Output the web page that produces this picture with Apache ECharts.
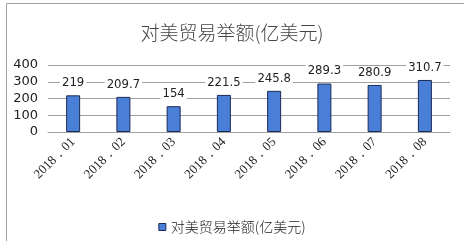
<!DOCTYPE html>
<html><head><meta charset="utf-8">
<script src="https://cdn.jsdelivr.net/npm/echarts@6/dist/echarts.min.js"></script>
<style>html,body{margin:0;padding:0;background:#fff}#c{width:464px;height:241px}</style>
</head><body><div id="c"></div>
<script>
var categories = ['2018．01','2018．02','2018．03','2018．04','2018．05','2018．06','2018．07','2018．08'];
var values = [219, 209.7, 154, 221.5, 245.8, 289.3, 280.9, 310.7];
var labels = ['219','209.7','154','221.5','245.8','289.3','280.9','310.7'];
var seriesName = '对美贸易举额(亿美元)';
var chart = echarts.init(document.getElementById('c'));
chart.setOption({
  animation: false,
  backgroundColor: '#fff',
  graphic: [{type:'rect', shape:{x:6.5,y:3.5,width:470,height:250}, style:{fill:'none', stroke:'#a0a0a0', lineWidth:1}, z:-1}],
  title: {text: '对美贸易举额(亿美元)', left: 'center', top: 18,
    textStyle: {fontFamily: 'Noto Sans CJK SC', fontSize: 19, fontWeight: 300, color: '#444'}},
  legend: {bottom: 2, left: 'center', itemWidth: 7, itemHeight: 7, itemGap: 4,
    textStyle: {fontFamily: 'Noto Sans CJK SC', fontSize: 14, fontWeight: 300, color: '#222'},
    data: [{name: seriesName, icon: 'rect', itemStyle:{borderColor:'#1a2a55', borderWidth:1}}]},
  grid: {left: 48, right: 14, top: 65, bottom: 109, containLabel: false},
  xAxis: {type: 'category', data: categories,
    axisLine: {lineStyle: {color: '#a0a0a0'}}, axisTick: {show: false},
    axisLabel: {rotate: 45, interval: 0, margin: 8, fontFamily: '"Liberation Serif", serif', fontSize: 13, color: '#222'}},
  yAxis: {type: 'value', min: 0, max: 400, interval: 100,
    axisLine: {show: false}, axisTick: {show: false},
    splitLine: {lineStyle: {color: '#a0a0a0'}},
    axisLabel: {fontFamily: 'DejaVu Sans', fontSize: 13, color: '#222', margin: 10}},
  series: [{name: seriesName, type: 'bar', data: values, barWidth: 14,
    itemStyle: {color: '#4a7fd8', borderColor: '#1a2a55', borderWidth: 1},
    label: {show: true, position: 'top', distance: 6, backgroundColor: '#fff', padding: [0,2],
      fontFamily: 'DejaVu Sans Condensed', fontSize: 13, color: '#222',
      formatter: function(p){ return labels[p.dataIndex]; }}}]
});
</script></body></html>
